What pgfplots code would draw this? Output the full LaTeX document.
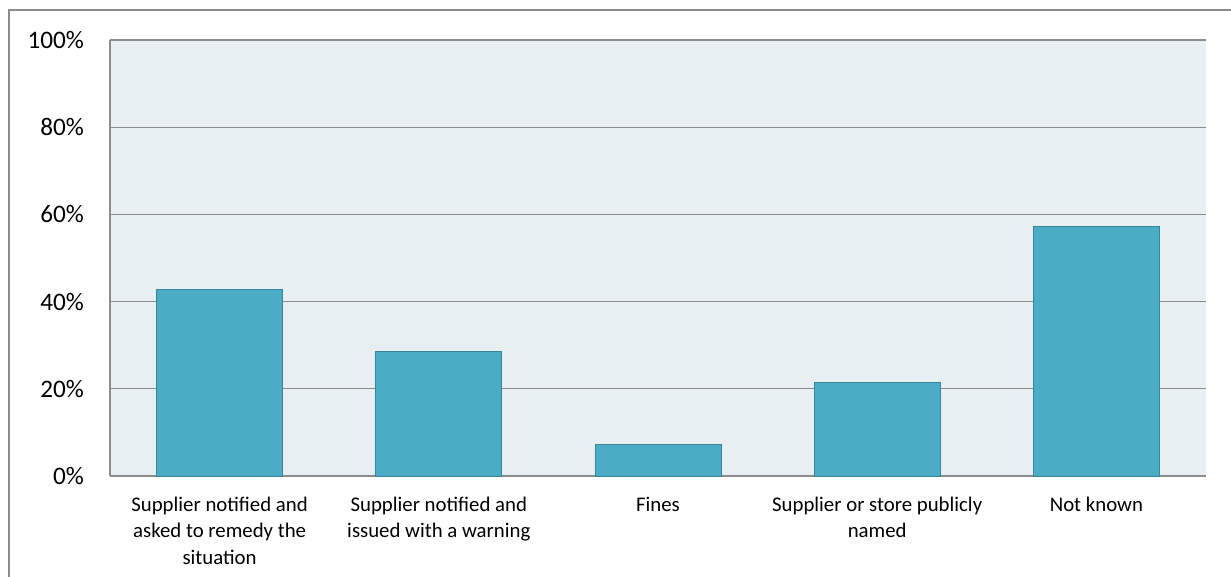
\documentclass[border=0pt]{standalone}
\usepackage{pgfplots}
\pgfplotsset{compat=1.18}
\usepackage{fontspec}
\setmainfont{Carlito}
\definecolor{plotbg}{HTML}{E8EFF3}
\definecolor{barfill}{HTML}{4BACC6}
\definecolor{baredge}{HTML}{3A8497}
\definecolor{gridgray}{HTML}{8C8C8C}
\begin{document}
\begin{tikzpicture}
    \useasboundingbox (0pt,0pt) rectangle (615.5pt,-288.5pt);
    \draw[gridgray, line width=0.8pt] (4.5pt,-288.5pt) -- (4.5pt,-5pt) -- (615.5pt,-5pt);
    \begin{axis}[
            at={(55pt,-238pt)},
            anchor=south west,
            scale only axis,
            width=548pt,
            height=218pt,
            axis background/.style={fill=plotbg},
            ybar,
            bar width=63pt,
            xmin=-0.5, xmax=4.5,
            ymin=0, ymax=100,
            ytick={0,20,40,60,80,100},
            yticklabel={\pgfmathprintnumber{\tick}\%},
            /pgf/number format/assume math mode=true,
            ymajorgrids,
            grid style={gridgray, line width=0.6pt},
            axis lines=left,
            axis line style={-, gridgray, line width=0.8pt},
            major tick length=0pt,
            xtick=data,
            xticklabels={
                    {Supplier notified and\\asked to remedy the\\situation},
                    {Supplier notified and\\issued with a warning},
                    {Fines},
                    {Supplier or store publicly\\named},
                    {Not known}
                },
            x tick label style={align=center, font=\fontsize{10.4}{13.2}\selectfont, anchor=north, yshift=-7pt},
            y tick label style={font=\fontsize{12.6}{14}\selectfont, xshift=-9.5pt},
        ]
        \addplot[fill=barfill, draw=baredge, line width=0.5pt] coordinates {
                (0,42.86)
                (1,28.57)
                (2,7.14)
                (3,21.43)
                (4,57.14)
            };
    \end{axis}
\end{tikzpicture}
\end{document}
